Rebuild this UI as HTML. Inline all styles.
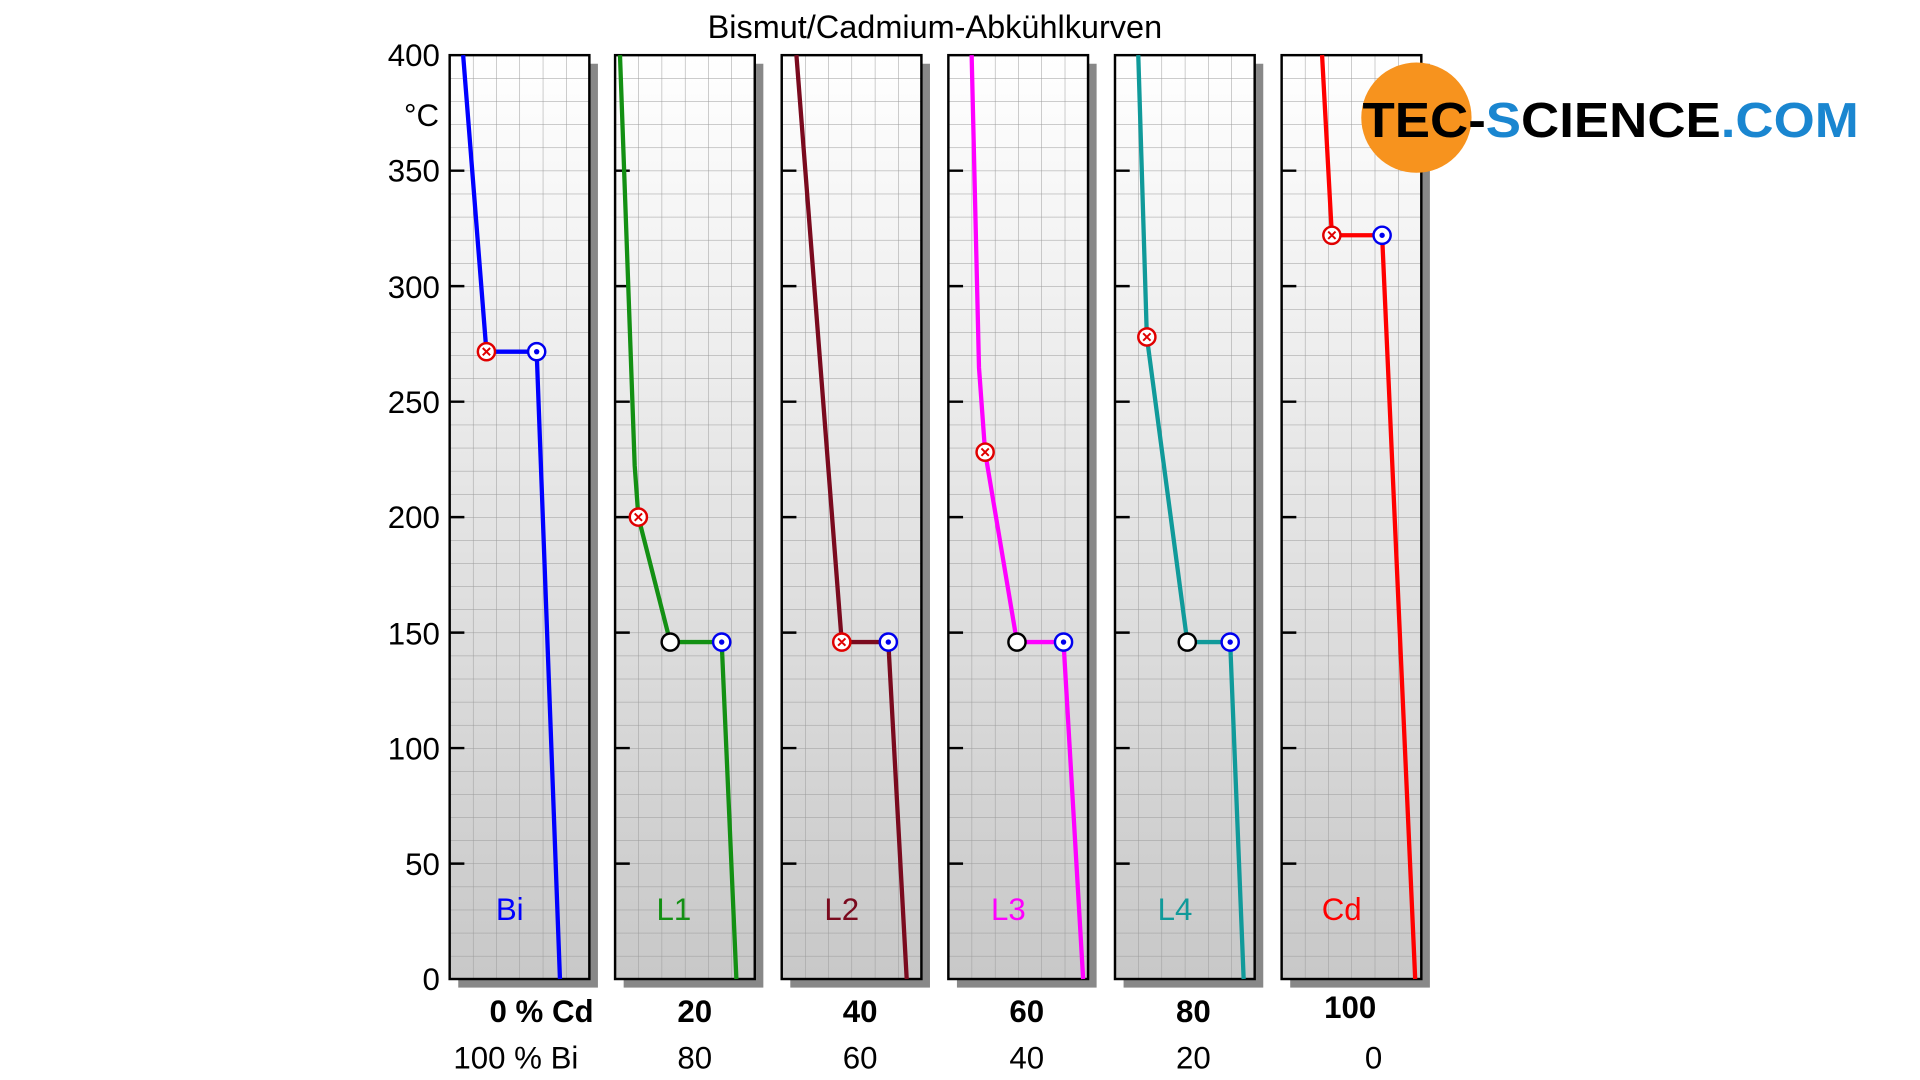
<!DOCTYPE html>
<html><head><meta charset="utf-8"><style>html,body{margin:0;padding:0;background:#fff;}svg{display:block}</style></head>
<body>
<svg width="1920" height="1080" viewBox="0 0 1567 881.4" xmlns="http://www.w3.org/2000/svg" font-family="Liberation Sans, sans-serif">
<defs>
<linearGradient id="g" x1="0" y1="0" x2="0" y2="1"><stop offset="0" stop-color="#ffffff"/><stop offset="1" stop-color="#c8c8c8"/></linearGradient>
<pattern id="grid" x="0" y="45" width="19" height="18.85" patternUnits="userSpaceOnUse"><path d="M0 0H19M0 0V18.85" stroke="#9a9a9a" stroke-width="0.8" fill="none"/></pattern>
</defs>
<text x="763" y="31" font-size="26.5" text-anchor="middle">Bismut/Cadmium-Abkühlkurven</text>
<g font-size="25.5" text-anchor="end">
<text x="359" y="54">400</text><text x="359" y="148">350</text><text x="359" y="243">300</text><text x="359" y="337">250</text><text x="359" y="431">200</text><text x="359" y="526">150</text><text x="359" y="620">100</text><text x="359" y="714">50</text><text x="359" y="808">0</text>
</g>
<text x="344" y="103" font-size="25.5" text-anchor="middle">°C</text>
<g id="panels">
<g transform="translate(367,0)"><rect x="7" y="52" width="114" height="754" fill="#888"/><rect x="0" y="45" width="114" height="754" fill="url(#g)"/><rect x="0" y="45" width="114" height="754" fill="url(#grid)"/><rect x="0" y="45" width="114" height="754" fill="none" stroke="#000" stroke-width="2"/><path d="M0 139.3h12M0 233.5h12M0 327.8h12M0 422h12M0 516.3h12M0 610.5h12M0 704.8h12" stroke="#000" stroke-width="2"/></g>
<g transform="translate(502,0)"><rect x="7" y="52" width="114" height="754" fill="#888"/><rect x="0" y="45" width="114" height="754" fill="url(#g)"/><rect x="0" y="45" width="114" height="754" fill="url(#grid)"/><rect x="0" y="45" width="114" height="754" fill="none" stroke="#000" stroke-width="2"/><path d="M0 139.3h12M0 233.5h12M0 327.8h12M0 422h12M0 516.3h12M0 610.5h12M0 704.8h12" stroke="#000" stroke-width="2"/></g>
<g transform="translate(638,0)"><rect x="7" y="52" width="114" height="754" fill="#888"/><rect x="0" y="45" width="114" height="754" fill="url(#g)"/><rect x="0" y="45" width="114" height="754" fill="url(#grid)"/><rect x="0" y="45" width="114" height="754" fill="none" stroke="#000" stroke-width="2"/><path d="M0 139.3h12M0 233.5h12M0 327.8h12M0 422h12M0 516.3h12M0 610.5h12M0 704.8h12" stroke="#000" stroke-width="2"/></g>
<g transform="translate(774,0)"><rect x="7" y="52" width="114" height="754" fill="#888"/><rect x="0" y="45" width="114" height="754" fill="url(#g)"/><rect x="0" y="45" width="114" height="754" fill="url(#grid)"/><rect x="0" y="45" width="114" height="754" fill="none" stroke="#000" stroke-width="2"/><path d="M0 139.3h12M0 233.5h12M0 327.8h12M0 422h12M0 516.3h12M0 610.5h12M0 704.8h12" stroke="#000" stroke-width="2"/></g>
<g transform="translate(910,0)"><rect x="7" y="52" width="114" height="754" fill="#888"/><rect x="0" y="45" width="114" height="754" fill="url(#g)"/><rect x="0" y="45" width="114" height="754" fill="url(#grid)"/><rect x="0" y="45" width="114" height="754" fill="none" stroke="#000" stroke-width="2"/><path d="M0 139.3h12M0 233.5h12M0 327.8h12M0 422h12M0 516.3h12M0 610.5h12M0 704.8h12" stroke="#000" stroke-width="2"/></g>
<g transform="translate(1046,0)"><rect x="7" y="52" width="114" height="754" fill="#888"/><rect x="0" y="45" width="114" height="754" fill="url(#g)"/><rect x="0" y="45" width="114" height="754" fill="url(#grid)"/><rect x="0" y="45" width="114" height="754" fill="none" stroke="#000" stroke-width="2"/><path d="M0 139.3h12M0 233.5h12M0 327.8h12M0 422h12M0 516.3h12M0 610.5h12M0 704.8h12" stroke="#000" stroke-width="2"/></g>
</g>
<g fill="none" stroke-width="3.5" stroke-linejoin="round">
<polyline points="378,45 397,287 438,287 457,799" stroke="#0000ff"/>
<polyline points="506,45 518,380 521,422 547,524 589,524 601,799" stroke="#139013"/>
<polyline points="650,45 687,524 725,524 740,799" stroke="#7a0a1e"/>
<polyline points="793,45 799,300 804,369 830,524 868,524 884,799" stroke="#ff00ff"/>
<polyline points="929,45 936,275 969,524 1004,524 1015,799" stroke="#109a9a"/>
<polyline points="1079,45 1087,192 1128,192 1155,799" stroke="#ff0000"/>
</g>
<g stroke-width="2" fill="#fff">
<g stroke="#e00000"><circle cx="397" cy="287" r="7"/><circle cx="521" cy="422" r="7"/><circle cx="687" cy="524" r="7"/><circle cx="804" cy="369" r="7"/><circle cx="936" cy="275" r="7"/><circle cx="1087" cy="192" r="7"/></g>
<g stroke="#e00000" stroke-width="1.6"><path d="M394 284l6 6M400 284l-6 6M518 419l6 6M524 419l-6 6M684 521l6 6M690 521l-6 6M801 366l6 6M807 366l-6 6M933 272l6 6M939 272l-6 6M1084 189l6 6M1090 189l-6 6"/></g>
<g stroke="#0000ee"><circle cx="438" cy="287" r="7"/><circle cx="589" cy="524" r="7"/><circle cx="725" cy="524" r="7"/><circle cx="868" cy="524" r="7"/><circle cx="1004" cy="524" r="7"/><circle cx="1128" cy="192" r="7"/></g>
<g fill="#0000ee" stroke="none"><circle cx="438" cy="287" r="2.2"/><circle cx="589" cy="524" r="2.2"/><circle cx="725" cy="524" r="2.2"/><circle cx="868" cy="524" r="2.2"/><circle cx="1004" cy="524" r="2.2"/><circle cx="1128" cy="192" r="2.2"/></g>
<g stroke="#000"><circle cx="547" cy="524" r="7"/><circle cx="830" cy="524" r="7"/><circle cx="969" cy="524" r="7"/></g>
</g>
<g font-size="25.5" text-anchor="middle">
<text x="416" y="751" fill="#0000ff">Bi</text><text x="550" y="751" fill="#139013">L1</text><text x="687" y="751" fill="#7a0a1e">L2</text><text x="823" y="751" fill="#ff00ff">L3</text><text x="959" y="751" fill="#109a9a">L4</text><text x="1095" y="751" fill="#ff0000">Cd</text>
</g>
<g font-size="25.5" font-weight="bold" text-anchor="middle">
<text x="442" y="834">0 % Cd</text><text x="567" y="834">20</text><text x="702" y="834">40</text><text x="838" y="834">60</text><text x="974" y="834">80</text><text x="1102" y="831">100</text>
</g>
<g font-size="25.5" text-anchor="middle">
<text x="421" y="872">100 % Bi</text><text x="567" y="872">80</text><text x="702" y="872">60</text><text x="838" y="872">40</text><text x="974" y="872">20</text><text x="1121" y="872">0</text>
</g>
<circle cx="1156" cy="96" r="45" fill="#f7931e"/>
<text x="1112" y="112" font-size="40" font-weight="bold" textLength="405" lengthAdjust="spacingAndGlyphs"><tspan fill="#000">TEC-</tspan><tspan fill="#1a86d0">S</tspan><tspan fill="#000">CIENCE</tspan><tspan fill="#1a86d0">.COM</tspan></text>
</svg>
</body></html>
